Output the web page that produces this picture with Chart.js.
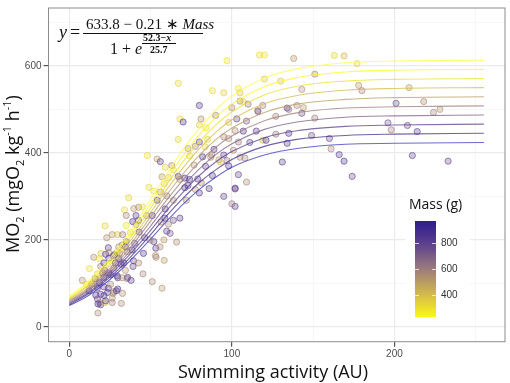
<!DOCTYPE html>
<html lang="en">
<head>
<meta charset="UTF-8">
<title>MO2 vs swimming activity</title>
<script src="https://cdn.jsdelivr.net/npm/chart.js@4.4.1/dist/chart.umd.min.js"></script>
<style>
  body { margin: 0; background: #fff; }
</style>
</head>
<body>
<canvas id="mo2Chart" width="510" height="383"></canvas>
<script>
// measured fish: swimming activity (AU), MO2 and body mass (g)
const activity = [
  97, 67, 88, 95, 104, 105, 105, 107, 110, 80,
  68, 70, 81, 90, 80, 84, 98, 103, 109, 115,
  116, 107, 102, 67, 73, 80, 85, 89, 95, 98,
  104, 101, 111, 74, 82, 87, 92, 93, 97, 98,
  105, 108, 48, 54, 56, 59, 63, 64, 57, 61,
  67, 71, 74, 79, 88, 104, 109, 102, 49, 52,
  117, 120, 138, 163, 169, 177, 120, 130, 151, 143,
  178, 180, 209, 119, 116, 134, 135, 140, 144, 143,
  127, 151, 201, 218, 224, 228, 196, 198, 208, 214,
  119, 121, 127, 135, 134, 149, 160, 161, 166, 169,
  174, 131, 211, 233, 100, 102, 95, 100, 86, 102,
  80, 71, 72, 68, 64, 61, 62, 66, 59, 54,
  53, 52, 56, 60, 64, 36.5, 42.6, 39.6, 45, 34,
  35, 41, 47.5, 51, 39, 35, 41, 22, 26.4, 29.6,
  32.8, 37.6, 43, 23, 32.5, 35, 38.6, 35.5, 29.5, 24,
  24.3, 19.5, 15, 18.5, 24.3, 28.4, 31.9, 39.5, 45.6, 53.4,
  58.4, 12.4, 19.3, 21.7, 17.3, 15.8, 21.3, 24.3, 27.4, 34.5,
  35.5, 38, 29.5, 8, 10.4, 13.8, 18.5, 45.3, 51, 57,
  24, 27.4, 29.8, 32.7, 12.2, 16.3, 19.3, 21.3, 17.3, 18.7,
  19.3, 26.4, 26.4, 32, 22, 17.6, 22.3, 27, 21.3, 30.4,
  33.5, 42.6, 39.2, 20.5, 25.4, 29.8, 32.5, 35.9, 17.3, 21.3,
  25.4, 23.5, 27, 29, 22.3, 17.6, 42.6, 46.3, 49.7, 40.2,
  34.5, 30.4, 30.9, 27.8, 53.2, 55.8, 58.2, 59.9, 56.4, 58.8,
  77.5, 83.6, 87.6, 95, 76.7, 83.8, 68, 73, 81.2, 58.4,
  77.5
];
const mo2 = [
  612, 560, 543, 538, 548, 538, 519, 518, 512, 509,
  478, 471, 478, 486, 464, 458, 470, 478, 473, 450,
  497, 450, 451, 431, 410, 425, 431, 408, 437, 433,
  425, 406, 424, 393, 391, 390, 384, 379, 382, 370,
  390, 388, 394, 386, 380, 367, 371, 361, 345, 343,
  346, 342, 339, 340, 348, 350, 333, 319, 321, 312,
  625, 625, 617, 624, 623, 605, 570, 565, 581, 546,
  555, 543, 550, 509, 495, 503, 500, 509, 504, 491,
  484, 480, 514, 518, 493, 500, 469, 453, 463, 449,
  429, 429, 443, 445, 422, 440, 433, 409, 396, 381,
  346, 379, 394, 381, 504, 277, 300, 283, 318, 317,
  308, 320, 291, 250, 245, 236, 215, 195, 271, 291,
  164, 196, 310, 301, 291, 297, 275, 272, 276, 269,
  256, 256, 256, 256, 242, 233, 235, 232, 212, 212,
  212, 217, 218, 205, 188, 196, 177, 173, 173, 182,
  171, 169, 160, 157, 158, 147, 144, 152, 169, 160,
  153, 134, 139, 130, 122, 111, 114, 124, 135, 130,
  111, 107, 117, 107, 98, 98, 102, 122, 104, 89,
  89, 81, 87, 77, 83, 73, 75, 72, 64, 56,
  51, 66, 56, 54, 56, 32, 167, 163, 147, 157,
  147, 147, 139, 124, 120, 113, 113, 114, 89, 92,
  98, 79, 77, 83, 60, 53, 245, 205, 200, 192,
  184, 184, 169, 166, 181, 184, 200, 220, 241, 250,
  415, 414, 395, 395, 372, 369, 339, 325, 331, 329,
  316
];
const mass = [
  300, 330, 310, 350, 290, 380, 560, 340, 600, 820,
  320, 860, 540, 580, 360, 300, 400, 780, 700, 800,
  620, 840, 560, 330, 520, 800, 350, 830, 580, 540,
  600, 560, 760, 320, 880, 560, 520, 380, 600, 820,
  540, 580, 310, 500, 800, 340, 560, 300, 520, 380,
  840, 900, 860, 800, 820, 780, 560, 800, 330, 300,
  320, 300, 520, 330, 420, 340, 360, 380, 560, 540,
  520, 560, 500, 580, 680, 800, 600, 560, 520, 740,
  580, 600, 760, 560, 580, 540, 720, 600, 740, 800,
  420, 860, 600, 840, 820, 760, 780, 560, 800, 840,
  780, 820, 800, 780, 540, 800, 780, 620, 840, 760,
  820, 880, 580, 800, 760, 560, 720, 560, 800, 860,
  540, 800, 540, 580, 520, 340, 560, 520, 330, 320,
  580, 800, 540, 840, 860, 300, 560, 340, 520, 400,
  620, 330, 820, 540, 580, 800, 840, 560, 350, 800,
  520, 380, 540, 320, 820, 860, 780, 800, 840, 560,
  520, 310, 580, 820, 340, 800, 860, 780, 560, 540,
  600, 820, 800, 540, 330, 560, 840, 580, 560, 520,
  800, 600, 820, 560, 780, 860, 800, 840, 760, 580,
  820, 540, 600, 560, 380, 560, 800, 760, 820, 880,
  800, 560, 780, 820, 860, 800, 560, 760, 780, 780,
  560, 840, 540, 800, 800, 840, 800, 820, 560, 780,
  840, 540, 580, 800, 820, 560, 520, 800, 580, 840,
  560, 340, 560, 800, 540, 820, 560, 800, 580, 350,
  540
];

// fitted curves, one per mass
const curveX = [0, 10, 20, 30, 40, 50, 60, 70, 80, 90, 100, 120, 140, 170, 200, 255];
const fit100  = [71, 99, 136, 181, 234, 293, 352, 408, 457, 498, 530, 572, 593, 607, 611, 613];
const fit200  = [68, 96, 131, 175, 226, 283, 340, 394, 442, 481, 512, 552, 573, 586, 590, 592];
const fit300  = [66, 92, 126, 169, 218, 273, 328, 380, 426, 464, 494, 533, 553, 565, 569, 571];
const fit400  = [64, 89, 122, 163, 210, 263, 316, 366, 410, 447, 476, 513, 532, 544, 548, 550];
const fit500  = [61, 85, 117, 156, 202, 253, 304, 352, 395, 430, 457, 493, 512, 523, 527, 529];
const fit600  = [59, 82, 112, 150, 194, 243, 292, 338, 379, 413, 439, 474, 492, 503, 506, 508];
const fit700  = [56, 79, 108, 144, 186, 232, 280, 324, 363, 396, 421, 454, 471, 482, 485, 487];
const fit800  = [54, 75, 103, 138, 178, 222, 268, 310, 348, 379, 403, 435, 451, 461, 464, 466];
const fit900  = [51, 72, 99, 131, 170, 212, 256, 296, 332, 361, 385, 415, 431, 440, 443, 445];
const fit1000 = [49, 68, 94, 125, 162, 202, 243, 282, 316, 344, 367, 395, 410, 420, 422, 424];
const fitMass = [100, 200, 300, 400, 500, 600, 700, 800, 900, 1000];
const fitCurves = [fit100, fit200, fit300, fit400, fit500, fit600, fit700, fit800, fit900, fit1000];

const xTicks = [0, 100, 200];
const yTicks = [0, 200, 400, 600];
const massTicks = [400, 600, 800];
const massRange = [233, 971];

// colour scale for mass (yellow -> indigo)
const palette = [
  [100, [255, 255, 80]], [233, [250, 248, 20]], [400, [214, 188, 74]],
  [600, [157, 124, 124]], [800, [92, 63, 142]], [971, [45, 30, 140]], [1000, [60, 56, 185]]
];
function massRgb(m) {
  if (m <= palette[0][0]) return palette[0][1];
  for (let i = 1; i < palette.length; i++) {
    if (m <= palette[i][0]) {
      const [m0, c0] = palette[i - 1], [m1, c1] = palette[i];
      const t = (m - m0) / (m1 - m0);
      return c0.map((c, k) => Math.round(c + (c1[k] - c) * t));
    }
  }
  return palette[palette.length - 1][1];
}
function massColor(m, a) {
  const c = massRgb(m);
  return `rgba(${c[0]},${c[1]},${c[2]},${a})`;
}

const points = activity.map((x, i) => ({ x: x, y: mo2[i] }));

const datasets = [{
  label: 'fish',
  data: points,
  order: 2,
  pointRadius: 3.1,
  pointBorderWidth: 1,
  pointBackgroundColor: mass.map(m => massColor(m, 0.3)),
  pointBorderColor: mass.map(m => massColor(m, 0.6))
}];
fitCurves.forEach((c, k) => {
  datasets.push({
    label: 'fit ' + fitMass[k],
    data: curveX.map((x, i) => ({ x: x, y: c[i] })),
    order: 1,
    showLine: true,
    pointRadius: 0,
    borderWidth: 1.1,
    borderColor: massColor(fitMass[k], 0.75),
    cubicInterpolationMode: 'monotone'
  });
});

const tickFont = { family: 'Liberation Sans', size: 10 };

function gridOpts(majors) {
  return {
    color: c => majors.includes(c.tick.value) ? '#ebebeb' : '#f4f4f4',
    lineWidth: c => majors.includes(c.tick.value) ? 1.2 : 0.7,
    tickColor: c => majors.includes(c.tick.value) ? '#555' : 'rgba(0,0,0,0)',
    tickLength: 5
  };
}

const overlay = {
  id: 'overlay',
  afterDatasetsDraw(chart) {
    const { ctx, chartArea: a } = chart;
    ctx.save();

    // legend box
    ctx.fillStyle = '#fff';
    ctx.fillRect(405, 188, 65, 135);
    ctx.fillStyle = '#111';
    ctx.font = '14px "Open Sans"';
    ctx.textBaseline = 'alphabetic';
    ctx.textAlign = 'left';
    ctx.fillText('Mass (g)', 409, 209);

    const bx = 415, bw = 21, by0 = 221, by1 = 317;
    const my = m => by1 - (m - massRange[0]) / (massRange[1] - massRange[0]) * (by1 - by0);
    const grad = ctx.createLinearGradient(0, by1, 0, by0);
    for (let s = 0; s <= 20; s++) {
      const m = massRange[0] + (massRange[1] - massRange[0]) * s / 20;
      grad.addColorStop(s / 20, massColor(m, 1));
    }
    ctx.fillStyle = grad;
    ctx.fillRect(bx, by0, bw, by1 - by0);
    ctx.strokeStyle = 'rgba(255,255,255,0.75)';
    ctx.lineWidth = 1;
    ctx.font = '10px "Liberation Sans"';
    ctx.fillStyle = '#333';
    ctx.textBaseline = 'middle';
    massTicks.forEach(m => {
      const y = Math.round(my(m)) + 0.5;
      ctx.beginPath();
      ctx.moveTo(bx, y); ctx.lineTo(bx + 4, y);
      ctx.moveTo(bx + bw - 4, y); ctx.lineTo(bx + bw, y);
      ctx.stroke();
      ctx.fillText(String(m), 441, my(m));
    });

    // panel border
    ctx.strokeStyle = '#8c8c8c';
    ctx.lineWidth = 1;
    ctx.strokeRect(a.left, a.top, a.right - a.left, a.bottom - a.top);
    ctx.restore();
  },
  afterDraw(chart) {
    const ctx = chart.ctx;
    ctx.save();
    ctx.fillStyle = '#111';
    ctx.textBaseline = 'alphabetic';

    // axis titles
    ctx.font = '18px "Open Sans"';
    ctx.textAlign = 'center';
    ctx.fillText('Swimming activity (AU)', 273, 378);

    const parts = [
      ['MO', 0], ['2', 1], [' (mgO', 0], ['2', 1], [' kg', 0], ['-1', -1], [' h', 0], ['-1', -1], [')', 0]
    ];
    const big = '18px "Open Sans"', small = '11px "Open Sans"';
    let total = 0;
    parts.forEach(p => { ctx.font = p[1] ? small : big; total += ctx.measureText(p[0]).width; });
    ctx.translate(18.5, 174);
    ctx.rotate(-Math.PI / 2);
    ctx.textAlign = 'left';
    let cx = -total / 2;
    parts.forEach(p => {
      ctx.font = p[1] ? small : big;
      const dy = p[1] === 1 ? 5 : (p[1] === -1 ? -8 : 0);
      ctx.fillText(p[0], cx, dy);
      cx += ctx.measureText(p[0]).width;
    });
    ctx.setTransform(1, 0, 0, 1, 0, 0);

    // model equation
    const serif = '"Liberation Serif"';
    ctx.textAlign = 'left';
    ctx.font = 'italic 18px ' + serif;
    ctx.fillText('y', 59, 38);
    ctx.font = '18px ' + serif;
    ctx.fillText('=', 70, 38);
    ctx.font = '15px ' + serif;
    const num1 = '633.8 \u2212 0.21 \u2217 ';
    ctx.fillText(num1, 86, 29);
    const w1 = ctx.measureText(num1).width;
    ctx.font = 'italic 15px ' + serif;
    ctx.fillText('Mass', 86 + w1, 29);
    ctx.strokeStyle = '#111';
    ctx.lineWidth = 1;
    ctx.beginPath();
    ctx.moveTo(83, 33.5); ctx.lineTo(203, 33.5);
    ctx.stroke();
    ctx.font = '16px ' + serif;
    ctx.fillText('1 + ', 110, 54);
    const w2 = ctx.measureText('1 + ').width;
    ctx.font = 'italic 16px ' + serif;
    ctx.fillText('e', 110 + w2, 54);
    ctx.font = 'bold 10px ' + serif;
    ctx.fillText('52.3\u2212', 143, 41);
    const w3 = ctx.measureText('52.3\u2212').width;
    ctx.font = 'bold italic 10px ' + serif;
    ctx.fillText('x', 143 + w3, 41);
    ctx.beginPath();
    ctx.moveTo(142, 43.5); ctx.lineTo(176, 43.5);
    ctx.stroke();
    ctx.font = 'bold 10px ' + serif;
    ctx.fillText('25.7', 150, 53);
    ctx.restore();
  }
};

new Chart(document.getElementById('mo2Chart'), {
  type: 'scatter',
  data: { datasets: datasets },
  options: {
    responsive: false,
    animation: false,
    layout: { padding: { left: 0, top: 2, right: 2.5, bottom: 0 } },
    plugins: { legend: { display: false }, tooltip: { enabled: false } },
    scales: {
      x: {
        type: 'linear',
        min: -12.8,
        max: 268,
        afterBuildTicks: s => { s.ticks = [0, 50, 100, 150, 200, 250].map(v => ({ value: v })); },
        afterFit: s => { s.height = 41.3; },
        ticks: {
          callback: v => xTicks.includes(v) ? String(v) : '',
          font: tickFont, color: '#4d4d4d', padding: 2, maxRotation: 0, autoSkip: false
        },
        grid: gridOpts(xTicks),
        border: { display: false }
      },
      y: {
        type: 'linear',
        min: -34,
        max: 733,
        afterBuildTicks: s => { s.ticks = [0, 100, 200, 300, 400, 500, 600, 700].map(v => ({ value: v })); },
        afterFit: s => { s.width = 48.5; },
        ticks: {
          callback: v => yTicks.includes(v) ? String(v) : '',
          font: tickFont, color: '#4d4d4d', padding: 2, autoSkip: false
        },
        grid: gridOpts(yTicks),
        border: { display: false }
      }
    }
  },
  plugins: [overlay]
});
</script>
</body>
</html>
